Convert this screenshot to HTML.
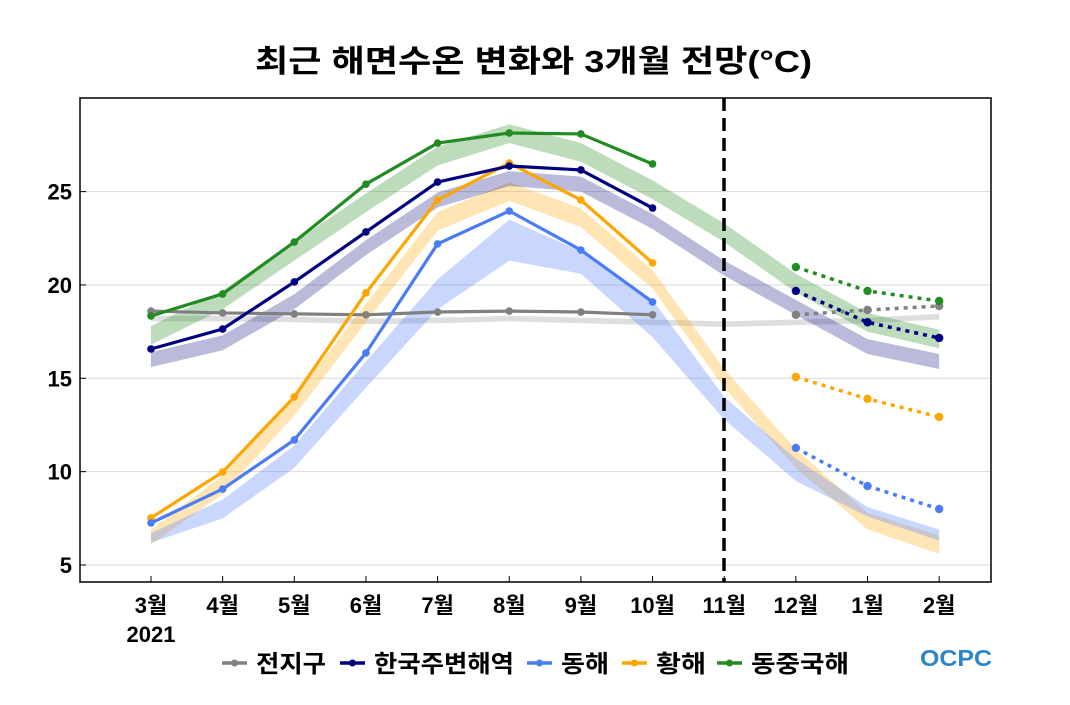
<!DOCTYPE html>
<html><head><meta charset="utf-8">
<style>
body{margin:0;background:#fff;}
svg text{font-family:"Liberation Sans","Noto Sans CJK KR",sans-serif;}
</style></head>
<body>
<svg id="chart" width="1070" height="700" viewBox="0 0 1070 700" xmlns="http://www.w3.org/2000/svg">
<rect width="1070" height="700" fill="#fff"/>
<text x="255" y="72" font-size="31" font-weight="bold" fill="#000" textLength="557" lengthAdjust="spacingAndGlyphs">최근 해면수온 변화와 3개월 전망(°C)</text>
<g id="grid"></g>
<g id="bands"></g>
<g id="lines"></g>
<rect x="80" y="98" width="911" height="484" fill="none" stroke="#000" stroke-width="1.5"/>
<line x1="724" y1="98" x2="724" y2="582" stroke="#000" stroke-width="3.5" stroke-dasharray="13,7"/>
<g id="axes"></g>
<text x="151" y="642" text-anchor="middle" font-size="22" font-weight="bold">2021</text>
<g id="legend"></g>
<text x="920" y="666" font-size="23" font-weight="bold" fill="#2a86c8" textLength="72" lengthAdjust="spacingAndGlyphs">OCPC</text>
</svg>
<script>
const months = ['3월','4월','5월','6월','7월','8월','9월','10월','11월','12월','1월','2월'];
const yTicks = [5,10,15,20,25];
const seriesNames = ['전지구','한국주변해역','동해','황해','동중국해'];
const seriesColors = ['#808080','#000080','#4a7cf5','#ffa500','#228b22'];
// observed (Mar–Oct)
const obsGlobal = [18.6,18.5,18.45,18.4,18.55,18.6,18.55,18.4];
const obsKorea  = [16.57,17.64,20.16,22.84,25.51,26.37,26.16,24.12];
const obsEast   = [7.25,9.07,11.7,16.36,22.2,23.96,21.87,19.09];
const obsYellow = [7.52,9.98,14.0,19.57,24.55,26.53,24.55,21.18];
const obsECS    = [18.34,19.52,22.3,25.4,27.6,28.14,28.09,26.48];
// forecast (Dec, Jan, Feb)
const fcGlobal = [18.4,18.66,18.87];
const fcKorea  = [19.68,18.0,17.16];
const fcEast   = [11.27,9.23,8.0];
const fcYellow = [15.07,13.9,12.93];
const fcECS    = [20.96,19.68,19.14];
// climatology bands (lo / hi, 12 months)
const bandGlobalLo = [18.05,18.05,18.0,17.9,17.95,18.05,17.95,17.85,17.75,17.85,17.95,18.15];
const bandGlobalHi = [18.35,18.35,18.3,18.2,18.25,18.35,18.25,18.15,18.05,18.15,18.25,18.45];
const bandKoreaLo = [15.6,16.5,18.7,21.6,24.15,25.3,25.0,23.0,20.5,18.4,16.3,15.5];
const bandKoreaHi = [16.4,17.3,19.5,22.4,24.95,26.1,25.8,23.8,21.3,19.2,17.1,16.3];
const bandEastLo = [6.2,7.5,10.2,14.5,18.7,21.3,20.6,17.2,12.8,9.5,7.6,6.3];
const bandEastHi = [6.7,8.5,11.4,15.9,20.3,23.5,21.8,19.2,14.0,10.7,8.1,6.9];
const bandYellowLo = [6.1,8.8,13.0,18.0,22.9,24.5,23.1,19.8,14.5,10.2,6.9,5.6];
const bandYellowHi = [6.9,9.8,14.0,19.0,23.9,25.5,24.1,20.8,15.5,11.2,7.8,6.6];
const bandECSLo = [16.8,18.7,21.3,23.9,26.4,27.6,26.6,24.6,22.3,19.6,17.5,16.6];
const bandECSHi = [17.8,19.7,22.3,24.9,27.4,28.6,27.6,25.6,23.3,20.6,18.5,17.6];

const NS='http://www.w3.org/2000/svg';
const X0=151, XSTEP=71.65, Y5=565, YPER=18.67;
function xs(i){return X0+i*XSTEP;}
function ys(v){return Y5-(v-5)*YPER;}
function mk(tag,attrs,parent){const e=document.createElementNS(NS,tag);for(const k in attrs)e.setAttribute(k,attrs[k]);parent.appendChild(e);return e;}
const grid=document.getElementById('grid'), axes=document.getElementById('axes');
yTicks.forEach(v=>{
  const g=mk('line',{x1:80,x2:991,y1:ys(v),y2:ys(v),stroke:'#d8d8d8','stroke-width':1},grid);
  
  
  const t=mk('line',{x1:80,x2:86,y1:ys(v),y2:ys(v),stroke:'#000','stroke-width':1},axes);
  
  
  const l=mk('text',{x:72,y:ys(v)+8,'text-anchor':'end','font-size':22,'font-weight':'bold'},axes);
  l.textContent=v;
  
  
});
months.forEach((m,i)=>{
  const t=mk('line',{x1:xs(i),x2:xs(i),y1:576,y2:582,stroke:'#000','stroke-width':1},axes);
  
  
  const l=mk('text',{x:xs(i),y:613,'text-anchor':'middle','font-size':22,'font-weight':'bold'},axes);
  l.textContent=m;
  
  
});
const bandsG=document.getElementById('bands'), linesG=document.getElementById('lines');
const bandFills=['rgba(200,200,200,0.6)','rgba(40,40,140,0.32)','rgba(100,140,255,0.35)','rgba(255,180,40,0.35)','rgba(34,139,34,0.3)'];
const bandsLo=[bandGlobalLo,bandKoreaLo,bandEastLo,bandYellowLo,bandECSLo];
const bandsHi=[bandGlobalHi,bandKoreaHi,bandEastHi,bandYellowHi,bandECSHi];
const obs=[obsGlobal,obsKorea,obsEast,obsYellow,obsECS];
const fc=[fcGlobal,fcKorea,fcEast,fcYellow,fcECS];
const drawOrder=[0,3,2,1,4];
drawOrder.forEach(s=>{
  let d='';
  bandsHi[s].forEach((v,i)=>{d+=(i?'L':'M')+xs(i)+','+ys(v);});
  for(let i=bandsLo[s].length-1;i>=0;i--)d+='L'+xs(i)+','+ys(bandsLo[s][i]);
  const p=mk('path',{d:d+'Z',fill:bandFills[s],stroke:'none'},bandsG);
  
  
});
drawOrder.forEach(s=>{
  const c=seriesColors[s];
  const pts=obs[s].map((v,i)=>xs(i)+','+ys(v)).join(' ');
  const pl=mk('polyline',{points:pts,fill:'none',stroke:c,'stroke-width':3.2},linesG);
  
  
  obs[s].forEach((v,i)=>{
    const m=mk('circle',{cx:xs(i),cy:ys(v),r:3.8,fill:c},linesG);
    
    
  });
  const fpts=fc[s].map((v,i)=>xs(i+9)+','+ys(v)).join(' ');
  const fl=mk('polyline',{points:fpts,fill:'none',stroke:c,'stroke-width':3.5,'stroke-dasharray':'4,5'},linesG);
  
  
  fc[s].forEach((v,i)=>{
    const m=mk('circle',{cx:xs(i+9),cy:ys(v),r:4.2,fill:c},linesG);
    
    
  });
});
const legend=document.getElementById('legend');
const legX=[222,340,527,622,717];
const legW=[70,140,48,50,98];
seriesNames.forEach((n,i)=>{
  const g=mk('g',{},legend);
  
  
  mk('line',{x1:legX[i],x2:legX[i]+25,y1:663,y2:663,stroke:seriesColors[i],'stroke-width':3.5},g);
  mk('circle',{cx:legX[i]+12.5,cy:663,r:3.5,fill:seriesColors[i]},g);
  const t=mk('text',{x:legX[i]+34,y:672,'font-size':24,'font-weight':'bold',textLength:legW[i],lengthAdjust:'spacingAndGlyphs'},g);
  t.textContent=n;
});
</script>
</body></html>
